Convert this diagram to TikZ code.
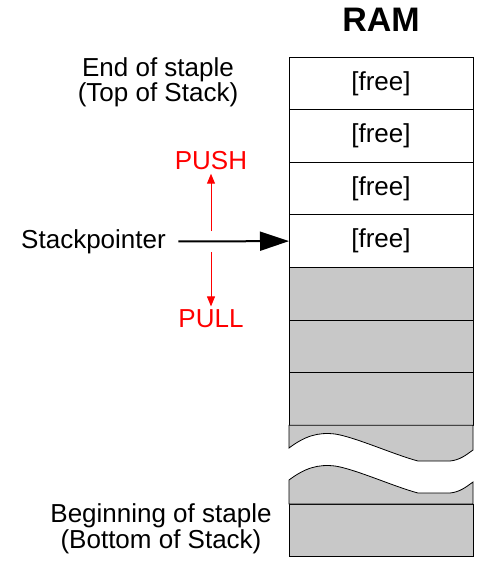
\documentclass[tikz,border=0pt]{standalone}
\usepackage{fontspec}
\setmainfont{Liberation Sans}
\usepackage{tikz}
\usetikzlibrary{positioning, arrows.meta}
\usepackage{color}
\definecolor{stack_gray}{RGB}{200,200,200}

\tikzset{
    cell/.style={draw, rectangle, line width=0.8pt, minimum width=184pt, minimum height=52.6pt, inner sep=0pt, outer sep=0pt, font=\fontsize{26}{27}\selectfont},
    usedcell/.style={cell, fill=stack_gray},
    caption/.style={align=center, font=\fontsize{26}{23.3}\selectfont},
    redarrow/.style={red, line width=1pt, -{Triangle[length=10pt,width=8pt]}}
}

\begin{document}
\begin{tikzpicture}[x=1pt, y=-1pt]

    \useasboundingbox (0,0) rectangle (480,566);

    % --- Begin RAM Column ---
            \node [font=\fontsize{34}{36}\selectfont\bfseries] (RAM) at (381,20) {RAM};
            \node [cell] (free_one) at (381,83.3) {[free]};
            \node [cell, below=0.0cm of free_one] (free_two) {[free]};
            \node [cell, below=0.0cm of free_two] (free_three) {[free]};
            \node [cell, below=0.0cm of free_three] (free_four) {[free]};
            \node [usedcell, below=0.0cm of free_four] (used_one) {};
            \node [usedcell, below=0.0cm of used_one] (used_two) {};
            \node [usedcell, below=0.0cm of used_two] (used_three) {};

            % Torn part of the column.
            \fill [stack_gray] (used_three.south west) -- (289,448) .. controls (305,436) and (318,432) .. (335,434)
                .. controls (355,437) and (395,455) .. (418,461) -- (450,461) .. controls (460,460) and (466,455) .. (473,450)
                -- (used_three.south east) -- cycle;
            \draw [line width=0.8pt] (used_three.south west) -- (289,448) .. controls (305,436) and (318,432) .. (335,434)
                .. controls (355,437) and (395,455) .. (418,461) -- (450,461) .. controls (460,460) and (466,455) .. (473,450)
                -- (used_three.south east) -- cycle;

            \node [usedcell, minimum height=52pt] (used_bottom) at (381,530) {};
            \fill [stack_gray] (used_bottom.north west) -- (289,480) .. controls (305,468) and (318,464) .. (335,466)
                .. controls (355,469) and (395,487) .. (418,493) -- (450,493) .. controls (460,492) and (466,487) .. (473,482)
                -- (used_bottom.north east) -- cycle;
            \draw [line width=0.8pt] (used_bottom.north west) -- (289,480) .. controls (305,468) and (318,464) .. (335,466)
                .. controls (355,469) and (395,487) .. (418,493) -- (450,493) .. controls (460,492) and (466,487) .. (473,482)
                -- (used_bottom.north east) -- cycle;
    % --- End RAM Column ---

    % --- Begin Labels ---
            \node [caption] (top_label) at (158,82) {End of staple \\ (Top of Stack)};
            \node [caption, font=\fontsize{26}{26}\selectfont] (bottom_label) at (161,528.7) {Beginning of staple \\ (Bottom of Stack)};
            \node [caption] (pointer) at (93.5,241.5) {Stackpointer};
            \node [caption, text=red] (push) at (211,161) {PUSH};
            \node [caption, text=red] (pull) at (211,319) {PULL};
    % --- End Labels ---

            % Connect the nodes.
            \coordinate (push_foot) at (211,231);
            \coordinate (pull_foot) at (211,252);
            \draw [line width=2pt, -{Triangle[length=29pt,width=19pt]}, shorten <=9pt] (pointer.east) -- (free_four.west);
            \draw [redarrow] (push_foot) -- (push.south);
            \draw [redarrow] (pull_foot) -- (pull.north);

\end{tikzpicture}
\end{document}
